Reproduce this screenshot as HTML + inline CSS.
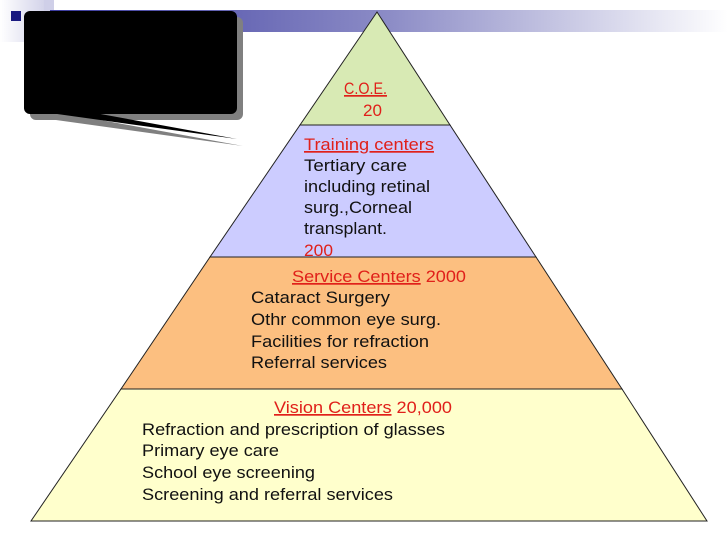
<!DOCTYPE html>
<html><head><meta charset="utf-8"><style>
html,body{margin:0;padding:0;background:#fff;}
svg{display:block;font-family:"Liberation Sans",Arial,sans-serif;}
</style></head><body>
<svg width="728" height="546" viewBox="0 0 728 546" xmlns="http://www.w3.org/2000/svg">
<defs>
<linearGradient id="bar" x1="0" x2="1" y1="0" y2="0">
<stop offset="0" stop-color="#3c3ca0"/>
<stop offset="0.5" stop-color="#8c8cc6"/>
<stop offset="1" stop-color="#ffffff"/>
</linearGradient>
<linearGradient id="lf" x1="0" x2="1">
<stop offset="0" stop-color="#ffffff"/>
<stop offset="1" stop-color="#d4d4ea"/>
</linearGradient>
</defs>
<rect x="0" y="0" width="44" height="42" fill="url(#lf)"/>
<rect x="44" y="0" width="10" height="20" fill="#cfcfe8"/>
<rect x="50" y="10" width="678" height="22" fill="url(#bar)"/>
<rect x="11" y="11" width="10" height="10" fill="#1a1a80"/>
<polygon points="56,120 101,120 243,146" fill="#808080"/>
<rect x="30" y="17" width="213" height="103" rx="6" fill="#808080"/>
<polygon points="50,113 95,113 237,139" fill="#000"/>
<rect x="24" y="11" width="213" height="103" rx="6" fill="#000"/>
<polygon points="377,12 450,125 300,125" fill="#d8eab4" stroke="#222" stroke-width="1"/>
<polygon points="300,125 450,125 536,257 210,257" fill="#ccccff" stroke="#222" stroke-width="1"/>
<g font-size="17" fill="#111">
<text x="304" y="150" fill="#e0201a" text-decoration="underline" textLength="130" lengthAdjust="spacingAndGlyphs">Training centers</text>
<text x="304" y="171" textLength="103" lengthAdjust="spacingAndGlyphs">Tertiary care</text>
<text x="304" y="192" textLength="126" lengthAdjust="spacingAndGlyphs">including retinal</text>
<text x="304" y="213" textLength="108" lengthAdjust="spacingAndGlyphs">surg.,Corneal</text>
<text x="304" y="234" textLength="83" lengthAdjust="spacingAndGlyphs">transplant.</text>
<text x="304" y="256" fill="#e0201a" textLength="29" lengthAdjust="spacingAndGlyphs">200</text>
</g>
<polygon points="210,257 536,257 622,389 121,389" fill="#fcbf80" stroke="#222" stroke-width="1"/>
<polygon points="121,389 622,389 707,521 31,521" fill="#ffffcc" stroke="#222" stroke-width="1"/>
<g font-size="17" fill="#111">
<text x="344" y="94" fill="#e0201a" text-decoration="underline" textLength="43" lengthAdjust="spacingAndGlyphs">C.O.E.</text>
<text x="363" y="116" fill="#e0201a" textLength="19" lengthAdjust="spacingAndGlyphs">20</text>
<text x="292" y="282" fill="#e0201a" textLength="174" lengthAdjust="spacingAndGlyphs"><tspan text-decoration="underline">Service Centers</tspan> 2000</text>
<text x="251" y="303" textLength="139" lengthAdjust="spacingAndGlyphs">Cataract Surgery</text>
<text x="251" y="325" textLength="190" lengthAdjust="spacingAndGlyphs">Othr common eye surg.</text>
<text x="251" y="347" textLength="178" lengthAdjust="spacingAndGlyphs">Facilities for refraction</text>
<text x="251" y="368" textLength="136" lengthAdjust="spacingAndGlyphs">Referral services</text>
<text x="274" y="413" fill="#e0201a" textLength="178" lengthAdjust="spacingAndGlyphs"><tspan text-decoration="underline">Vision Centers</tspan> 20,000</text>
<text x="142" y="435" textLength="303" lengthAdjust="spacingAndGlyphs">Refraction and prescription of glasses</text>
<text x="142" y="456" textLength="137" lengthAdjust="spacingAndGlyphs">Primary eye care</text>
<text x="142" y="478" textLength="173" lengthAdjust="spacingAndGlyphs">School eye screening</text>
<text x="142" y="500" textLength="251" lengthAdjust="spacingAndGlyphs">Screening and referral services</text>
</g>
</svg>
</body></html>
